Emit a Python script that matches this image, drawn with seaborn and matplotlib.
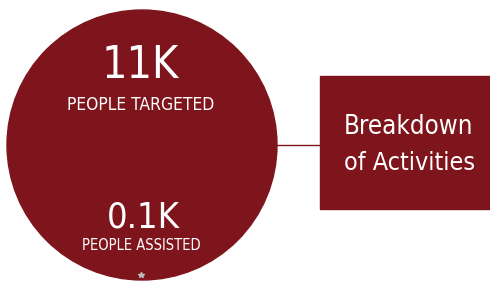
import matplotlib
matplotlib.use('Agg')
import matplotlib.pyplot as plt
import matplotlib.patches as mpatches
import seaborn as sns

# values shown in the circle
metric_values = ['11K', '0.1K']
metric_labels = ['PEOPLE TARGETED', 'PEOPLE ASSISTED']
box_text = ['Breakdown', 'of Activities']

red = '#7f151c'

sns.set_theme(style='white')
plt.rcParams['font.family'] = ['DejaVu Sans']

fig = plt.figure(figsize=(4.9, 2.85), dpi=100)
ax = fig.add_axes([0, 0, 1, 1])
ax.set_xlim(0, 490)
ax.set_ylim(285, 0)
ax.axis('off')

# big circle
ax.add_patch(mpatches.Circle((142, 145), 135, color=red, zorder=1))
# connector line
ax.plot([277, 321], [145, 145], color=red, lw=1, zorder=0)
# box
ax.add_patch(mpatches.Rectangle((320, 76), 170, 133, color=red, zorder=1))

kw = dict(color='white', ha='center', va='center', zorder=2, fontstretch='condensed')
# circle texts
ax.text(140, 65, metric_values[0], fontsize=32, **kw)
ax.text(141, 105, metric_labels[0], fontsize=12.5, **kw)
ax.text(143, 217, metric_values[1], fontsize=26, **kw)
ax.text(141, 246, metric_labels[1], fontsize=10.5, **kw)

# box texts
ax.text(408, 127, box_text[0], fontsize=18.5, **kw)
ax.text(410, 163, box_text[1], fontsize=18, **kw)

# small marker at the bottom of the circle
ax.plot([141], [275], marker='*', color='#bbbbbb', ms=4, zorder=3)

fig.savefig('out.png', dpi=100)
